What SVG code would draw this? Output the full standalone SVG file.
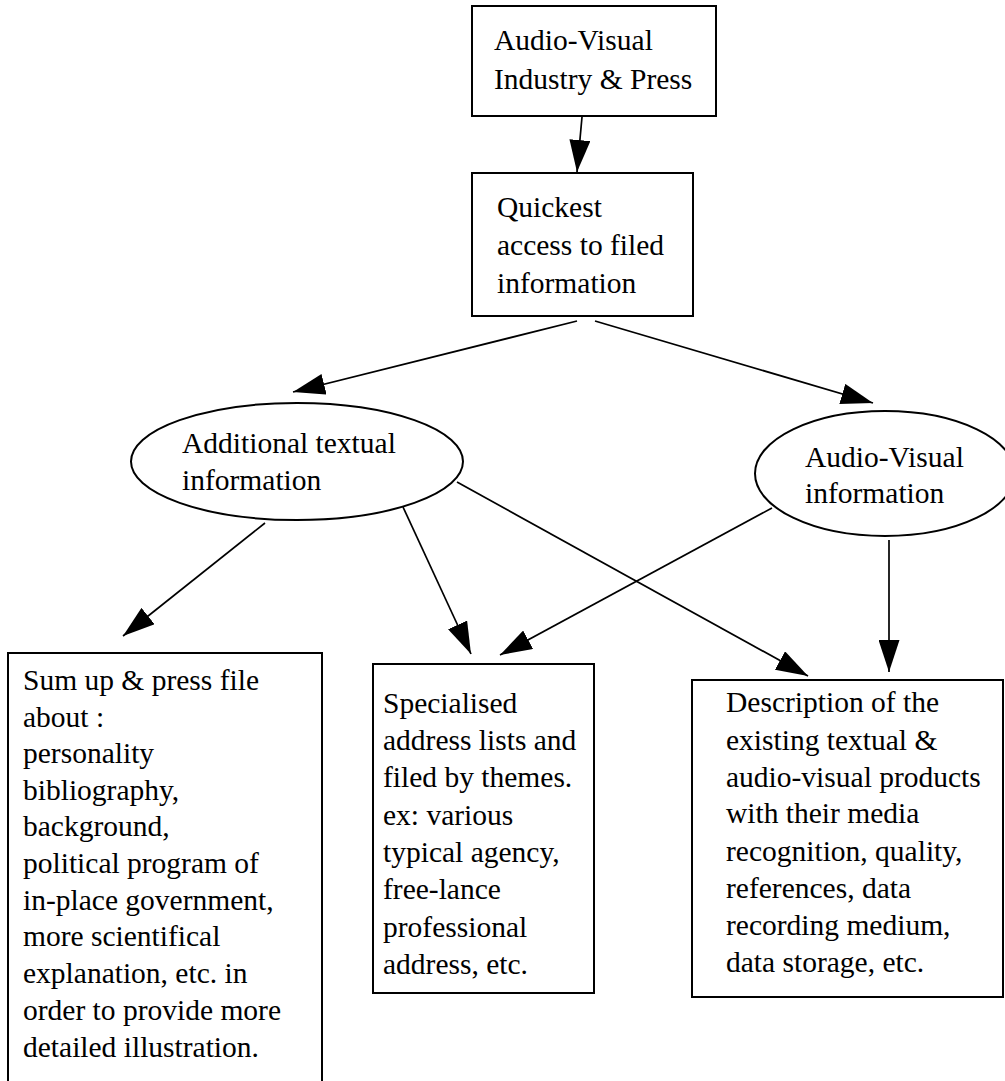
<svg xmlns="http://www.w3.org/2000/svg" width="1005" height="1081" viewBox="0 0 1005 1081">
  <style>
    .box { fill: #ffffff; stroke: #000000; stroke-width: 2; }
    .oval { fill: #ffffff; stroke: #000000; stroke-width: 2; }
    .lbl { font-family: "Liberation Serif", "Times New Roman", serif; font-size: 29.5px; fill: #000000; }
    .edge { stroke: #000000; stroke-width: 1.7; fill: none; marker-end: url(#arrow); }
  </style>
  <defs>
    <marker id="arrow" markerUnits="userSpaceOnUse" markerWidth="32" markerHeight="21" refX="32" refY="10.5" orient="auto">
      <path d="M0,0 L32,10.5 L0,21 Z" fill="#000000"/>
    </marker>
  </defs>
  <rect width="1005" height="1081" fill="#ffffff"/>

  <!-- connectors -->
  <g id="connectors">
    <line class="edge" x1="582" y1="117" x2="577" y2="172"/>
    <line class="edge" x1="577" y1="321" x2="293" y2="392"/>
    <line class="edge" x1="595" y1="321" x2="873" y2="403"/>
    <line class="edge" x1="265" y1="523" x2="123" y2="636"/>
    <line class="edge" x1="403" y1="507" x2="471" y2="654"/>
    <line class="edge" x1="457" y1="482" x2="808" y2="676"/>
    <line class="edge" x1="772" y1="508" x2="500" y2="655"/>
    <line class="edge" x1="889" y1="540" x2="889" y2="672"/>
  </g>

  <!-- Audio-Visual Industry & Press -->
  <g id="node-industry">
    <rect class="box" x="472" y="6" width="244" height="110"/>
    <text class="lbl" x="494" y="50">Audio-Visual</text>
    <text class="lbl" x="494" y="89">Industry &amp; Press</text>
  </g>

  <!-- Quickest access -->
  <g id="node-access">
    <rect class="box" x="472" y="173" width="221" height="143"/>
    <text class="lbl" x="497" y="217">Quickest</text>
    <text class="lbl" x="497" y="255">access to filed</text>
    <text class="lbl" x="497" y="293">information</text>
  </g>

  <!-- Additional textual information -->
  <g id="node-textual">
    <ellipse class="oval" cx="297" cy="461.5" rx="166" ry="58.5"/>
    <text class="lbl" x="182" y="453">Additional textual</text>
    <text class="lbl" x="182" y="490">information</text>
  </g>

  <!-- Audio-Visual information -->
  <g id="node-av">
    <ellipse class="oval" cx="885" cy="473.5" rx="130" ry="62.5"/>
    <text class="lbl" x="805" y="467">Audio-Visual</text>
    <text class="lbl" x="805" y="503">information</text>
  </g>

  <!-- Sum up & press file -->
  <g id="node-summary">
    <path class="box" d="M8,1090 L8,653 L322,653 L322,1090"/>
    <text class="lbl" x="23" y="690">Sum up &amp; press file</text>
    <text class="lbl" x="23" y="727">about :</text>
    <text class="lbl" x="23" y="763">personality</text>
    <text class="lbl" x="23" y="800">bibliography,</text>
    <text class="lbl" x="23" y="836">background,</text>
    <text class="lbl" x="23" y="873">political program of</text>
    <text class="lbl" x="23" y="910">in-place government,</text>
    <text class="lbl" x="23" y="946">more scientifical</text>
    <text class="lbl" x="23" y="983">explanation, etc. in</text>
    <text class="lbl" x="23" y="1020">order to provide more</text>
    <text class="lbl" x="23" y="1057">detailed illustration.</text>
  </g>

  <!-- Specialised address lists -->
  <g id="node-addresses">
    <rect class="box" x="373" y="664" width="221" height="329"/>
    <text class="lbl" x="383" y="713">Specialised</text>
    <text class="lbl" x="383" y="750">address lists and</text>
    <text class="lbl" x="383" y="787">filed by themes.</text>
    <text class="lbl" x="383" y="825">ex: various</text>
    <text class="lbl" x="383" y="862">typical agency,</text>
    <text class="lbl" x="383" y="899">free-lance</text>
    <text class="lbl" x="383" y="937">professional</text>
    <text class="lbl" x="383" y="974">address, etc.</text>
  </g>

  <!-- Description of products -->
  <g id="node-products">
    <rect class="box" x="692" y="680" width="311" height="317"/>
    <text class="lbl" x="726" y="712">Description of the</text>
    <text class="lbl" x="726" y="750">existing textual &amp;</text>
    <text class="lbl" x="726" y="787">audio-visual products</text>
    <text class="lbl" x="726" y="823">with their media</text>
    <text class="lbl" x="726" y="861">recognition, quality,</text>
    <text class="lbl" x="726" y="898">references, data</text>
    <text class="lbl" x="726" y="935">recording medium,</text>
    <text class="lbl" x="726" y="972">data storage, etc.</text>
  </g>
</svg>
